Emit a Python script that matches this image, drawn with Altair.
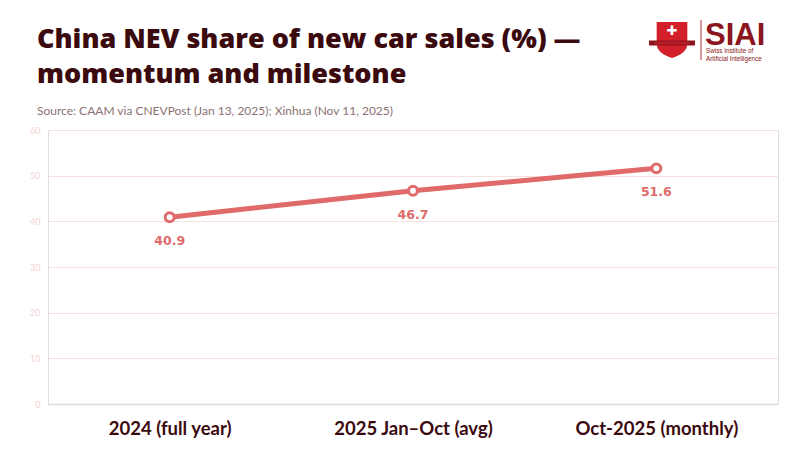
import altair as alt
import pandas as pd

categories = ["2024 (full year)", "2025 Jan–Oct (avg)", "Oct-2025 (monthly)"]
shares = [40.9, 46.7, 51.6]

title_lines = ["China NEV share of new car sales (%) —", "momentum and milestone"]
subtitle = "Source: CAAM via CNEVPost (Jan 13, 2025); Xinhua (Nov 11, 2025)"

LINE = "#e06a6a"
MAROON = "#3b0a0e"
LOGO = "#8b1620"

df = pd.DataFrame({"period": categories, "share": shares})

x = alt.X("period:N", sort=categories, title=None,
          scale=alt.Scale(type="point", padding=0.5),
          axis=alt.Axis(labelAngle=0, labelFont="Lato", labelFontWeight="bold",
                        labelFontSize=18.5, labelColor=MAROON, labelPadding=15,
                        ticks=False, domainColor="#d9d9d9", domainWidth=1.5, grid=False))
y = alt.Y("share:Q", title=None,
          scale=alt.Scale(domain=[0, 60], nice=False),
          axis=alt.Axis(values=[0, 10, 20, 30, 40, 50, 60], labelFont="Lato",
                        labelFontSize=9, labelColor="#f3d3d3", labelPadding=8,
                        ticks=False, domain=False, gridColor="#f6e1e1", gridWidth=1))

base = alt.Chart(df)
line = base.mark_line(color=LINE, strokeWidth=5).encode(x=x, y=y)
pts = base.mark_point(shape="circle", filled=True, fill="white", stroke=LINE,
                      strokeWidth=3, size=80, opacity=1).encode(x=x, y=y)
labels = base.mark_text(dy=24, font="DejaVu Sans", fontWeight="bold", fontSize=12.5,
                        color=LINE).encode(x=x, y=y, text=alt.Text("share:Q", format=".1f"))

# heading as text (decoration positions)
hd = alt.Chart(pd.DataFrame({"k": [0]}))
t1 = hd.mark_text(text=title_lines[0], font="Open Sans", fontSize=27, fontWeight=800,
                  color=MAROON, align="left", baseline="alphabetic").encode(
    x=alt.value(-11), y=alt.value(-82))
t2 = hd.mark_text(text=title_lines[1], font="Open Sans", fontSize=27, fontWeight=800,
                  color=MAROON, align="left", baseline="alphabetic").encode(
    x=alt.value(-11), y=alt.value(-47))
st = hd.mark_text(text=subtitle, font="Lato", fontSize=12, color="#8a7272",
                  align="left", baseline="alphabetic").encode(
    x=alt.value(-11), y=alt.value(-15))

# logo (decoration)
shield = hd.mark_point(
    shape="M-0.85,-1 L0.85,-1 L0.85,0.2 Q0.85,0.75 0,1 Q-0.85,0.75 -0.85,0.2 Z",
    filled=True, fill="#d3202a", strokeWidth=0, size=1300, opacity=1
).encode(x=alt.value(624), y=alt.value(-90))
ribbon = hd.mark_rule(color="#8e1520", strokeWidth=5).encode(
    x=alt.value(601), x2=alt.value(647), y=alt.value(-87))
ribbon_in = hd.mark_rule(color="#b81c26", strokeWidth=3).encode(
    x=alt.value(607), x2=alt.value(641), y=alt.value(-87))
cross = hd.mark_text(text="✚", color="white", fontSize=13, font="DejaVu Sans").encode(
    x=alt.value(624), y=alt.value(-99))
vbar = hd.mark_rule(color="#b03038", strokeWidth=1).encode(
    x=alt.value(653), y=alt.value(-110), y2=alt.value(-70))
siai = hd.mark_text(text="SIAI", color=LOGO, fontSize=31, font="Liberation Sans",
                    fontWeight="bold", align="left", baseline="alphabetic").encode(
    x=alt.value(657), y=alt.value(-85))
sub1 = hd.mark_text(text="Swiss Institute of", color=LOGO, fontSize=6.3,
                    font="Liberation Sans", align="left", baseline="alphabetic").encode(
    x=alt.value(658), y=alt.value(-77))
sub2 = hd.mark_text(text="Artificial Intelligence", color=LOGO, fontSize=6.3,
                    font="Liberation Sans", align="left", baseline="alphabetic").encode(
    x=alt.value(658), y=alt.value(-69))

chart = alt.layer(line, pts, labels, t1, t2, st, shield, ribbon, ribbon_in, cross,
                  vbar, siai, sub1, sub2).properties(
    width=730, height=274,
    autosize=alt.AutoSizeParams(type="none"),
    padding={"left": 40, "top": 122, "right": 14, "bottom": 38},
).configure_view(strokeWidth=0, stroke="transparent").configure(background="white")

chart.save("out.html", embed_options={"renderer": "svg", "actions": False})
